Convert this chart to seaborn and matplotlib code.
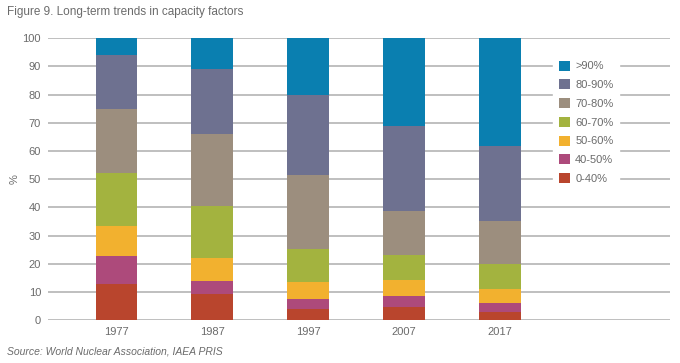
import matplotlib
matplotlib.use("Agg")
import matplotlib.pyplot as plt
from matplotlib.patches import Patch
import numpy as np
import pandas as pd
import seaborn as sns

# data (share of reactors per capacity-factor band, %)
years = ["1977", "1987", "1997", "2007", "2017"]
bands = ["0-40%", "40-50%", "50-60%", "60-70%", "70-80%", "80-90%", ">90%"]
band_0_40 = [12.8, 9.4, 4.0, 4.7, 2.8]
band_40_50 = [9.9, 4.5, 3.6, 3.8, 3.3]
band_50_60 = [10.7, 8.1, 5.8, 5.7, 5.1]
band_60_70 = [18.6, 18.5, 12.0, 8.8, 8.7]
band_70_80 = [22.7, 25.6, 25.9, 15.8, 15.2]
band_80_90 = [19.3, 22.8, 28.5, 30.0, 26.7]
band_90 = [6.0, 11.1, 20.2, 31.2, 38.2]
colors = ["#b9452d", "#ad4a7b", "#f2b12f", "#a3b33f", "#9c8e7e", "#6e7190", "#0a7fb0"]

values = [band_0_40, band_40_50, band_50_60, band_60_70, band_70_80, band_80_90, band_90]
df = pd.DataFrame({b: v for b, v in zip(bands, values)}, index=years)
cum = df.cumsum(axis=1)

sns.set_theme(style="white")
plt.rcParams["font.family"] = ["Liberation Sans", "DejaVu Sans"]
grey = "#6b6b6b"

fig = plt.figure(figsize=(6.8, 3.63), dpi=100)
ax = fig.add_axes([0.0706, 0.118, 0.9144, 0.777])

# draw cumulative totals from the top band down so each band shows
for band, col in zip(bands[::-1], colors[::-1]):
    sns.barplot(x=years, y=cum[band].values, color=col, width=0.43,
                saturation=1, ax=ax, zorder=3, linewidth=0)

ax.set_ylim(0, 100)
ax.set_xlim(-0.71, 5.77)
ax.set_yticks(range(0, 101, 10))
ax.yaxis.grid(True, color="#b4b4b4", linewidth=1.2, zorder=0)
ax.set_axisbelow(True)
for s in ax.spines.values():
    s.set_visible(False)
ax.tick_params(axis="both", length=0, labelsize=8, colors=grey, pad=5)
ax.set_ylabel("%", fontsize=8, color=grey)
ax.yaxis.set_label_coords(-0.046, 0.5)
ax.set_xlabel("")

handles = [Patch(facecolor=c, edgecolor="none") for c in colors[::-1]]
leg = ax.legend(handles, bands[::-1], loc="upper left",
                bbox_to_anchor=(553 / 680, 1 - 55 / 363),
                bbox_transform=fig.transFigure, frameon=True, fontsize=8,
                handlelength=1.0, handleheight=1.0, labelspacing=0.72,
                handletextpad=0.5, borderpad=0.5, borderaxespad=0)
leg.get_frame().set_facecolor("white")
leg.get_frame().set_edgecolor("white")
leg.get_frame().set_alpha(1)
leg.set_zorder(5)
for t in leg.get_texts():
    t.set_color(grey)

fig.text(7 / 680, 1 - 12 / 363, "Figure 9. Long-term trends in capacity factors",
         fontsize=8.5, color=grey, va="center", ha="left")
fig.text(7 / 680, 1 - 351 / 363, "Source: World Nuclear Association, IAEA PRIS",
         fontsize=7.5, color=grey, va="center", ha="left", style="italic")

fig.savefig("out.png", dpi=100)
